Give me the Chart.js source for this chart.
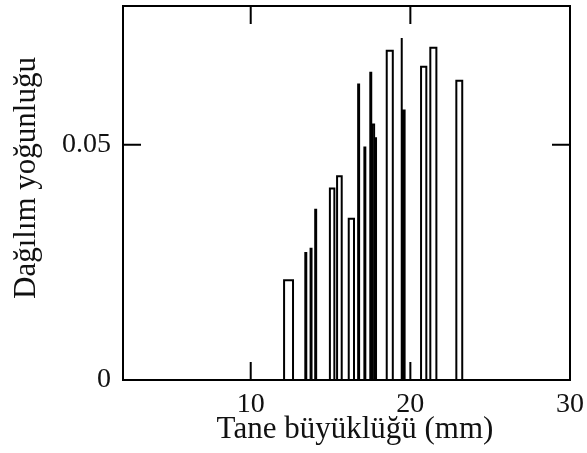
<!DOCTYPE html>
<html>
<head>
<meta charset="utf-8">
<script src="https://cdn.jsdelivr.net/npm/chart.js"></script>
<style>
  html, body { margin: 0; padding: 0; background: #fff; }
  #wrap { width: 587px; height: 453px; }
</style>
</head>
<body>
<div id="wrap"><canvas id="densityChart"></canvas></div>
<script>
// --- Data: each bar spans barLeft..barRight (mm) ---
const barLeft   = [12.09, 13.42, 13.75, 14.04, 14.96, 15.41, 16.14, 16.73, 17.12, 17.49, 17.60, 17.81, 18.52, 19.44, 19.52, 20.67, 21.25, 22.88];
const barRight  = [12.65, 13.48, 13.81, 14.10, 15.24, 15.70, 16.47, 16.79, 17.18, 17.55, 17.73, 17.85, 18.90, 19.47, 19.64, 21.00, 21.63, 23.25];
const barHeight = [0.0212, 0.0270, 0.0279, 0.0362, 0.0407, 0.0433, 0.0343, 0.0628, 0.0494, 0.0653, 0.0543, 0.0514, 0.0700, 0.0727, 0.0573, 0.0666, 0.0706, 0.0636];

const xTicks = [10, 20, 30];
const yTicks = [0, 0.05];
const xRange = [2, 30];
const yRange = [0, 0.0795];

const xTitle = 'Tane büyüklüğü (mm)';
const yTitle = 'Dağılım yoğunluğu';

const serif = '"Liberation Serif", "Times New Roman", serif';
const ink = '#111';

// outline of every bar as its own little line dataset
const datasets = barLeft.map((l, i) => ({
    data: [
        { x: l, y: 0 },
        { x: l, y: barHeight[i] },
        { x: barRight[i], y: barHeight[i] },
        { x: barRight[i], y: 0 }
    ],
    showLine: true,
    borderColor: '#000',
    borderWidth: 2,
    pointRadius: 0,
    fill: false,
    tension: 0
}));

// frame plus inward tick marks on all four sides
const frameTicks = {
    id: 'frameTicks',
    afterDatasetsDraw(chart, args, opts) {
        const { ctx, chartArea: { left, right, top, bottom }, scales: { x, y } } = chart;
        ctx.save();
        ctx.strokeStyle = '#000';
        ctx.lineWidth = 2;
        ctx.strokeRect(left, top, right - left, bottom - top);
        ctx.beginPath();
        xTicks.forEach(v => {
            const px = x.getPixelForValue(v);
            ctx.moveTo(px, bottom); ctx.lineTo(px, bottom - opts.length);
            ctx.moveTo(px, top); ctx.lineTo(px, top + opts.length);
        });
        yTicks.forEach(v => {
            const py = y.getPixelForValue(v);
            ctx.moveTo(left, py); ctx.lineTo(left + opts.length, py);
            ctx.moveTo(right, py); ctx.lineTo(right - opts.length, py);
        });
        ctx.stroke();
        ctx.restore();
    }
};

// axis titles, placed like the original (slightly off the plot centre)
const axisTitles = {
    id: 'axisTitles',
    afterDraw(chart, args, opts) {
        const { ctx } = chart;
        ctx.save();
        ctx.fillStyle = ink;
        ctx.font = `${opts.size}px ${serif}`;
        ctx.textAlign = 'center';
        ctx.textBaseline = 'middle';
        ctx.fillText(xTitle, opts.xAt[0], opts.xAt[1]);
        ctx.translate(opts.yAt[0], opts.yAt[1]);
        ctx.rotate(-Math.PI / 2);
        ctx.fillText(yTitle, 0, 0);
        ctx.restore();
    }
};

const noPad = s => { s.paddingTop = 0; s.paddingBottom = 0; s.paddingLeft = 0; s.paddingRight = 0; };

new Chart(document.getElementById('densityChart'), {
    type: 'scatter',
    data: { datasets },
    plugins: [frameTicks, axisTitles],
    options: {
        responsive: true,
        maintainAspectRatio: false,
        animation: false,
        layout: { padding: { top: 6, right: 17, left: 0, bottom: 0 } },
        plugins: {
            legend: { display: false },
            tooltip: { enabled: false },
            frameTicks: { length: 18 },
            axisTitles: { size: 31, xAt: [355, 430], yAt: [27, 178] }
        },
        scales: {
            x: {
                type: 'linear',
                min: xRange[0],
                max: xRange[1],
                afterFit: s => { s.height = 73; noPad(s); },
                afterBuildTicks: s => { s.ticks = xTicks.map(v => ({ value: v })); },
                grid: { display: false, drawTicks: false },
                border: { display: false },
                ticks: {
                    color: ink,
                    padding: 8,
                    maxRotation: 0,
                    font: { family: serif, size: 28 },
                    callback: v => String(v)
                }
            },
            y: {
                type: 'linear',
                min: yRange[0],
                max: yRange[1],
                afterFit: s => { s.width = 123; noPad(s); },
                afterBuildTicks: s => { s.ticks = yTicks.map(v => ({ value: v })); },
                grid: { display: false, drawTicks: false },
                border: { display: false },
                ticks: {
                    color: ink,
                    padding: 12,
                    font: { family: serif, size: 28 },
                    callback: v => String(v)
                }
            }
        }
    }
});
</script>
</body>
</html>
